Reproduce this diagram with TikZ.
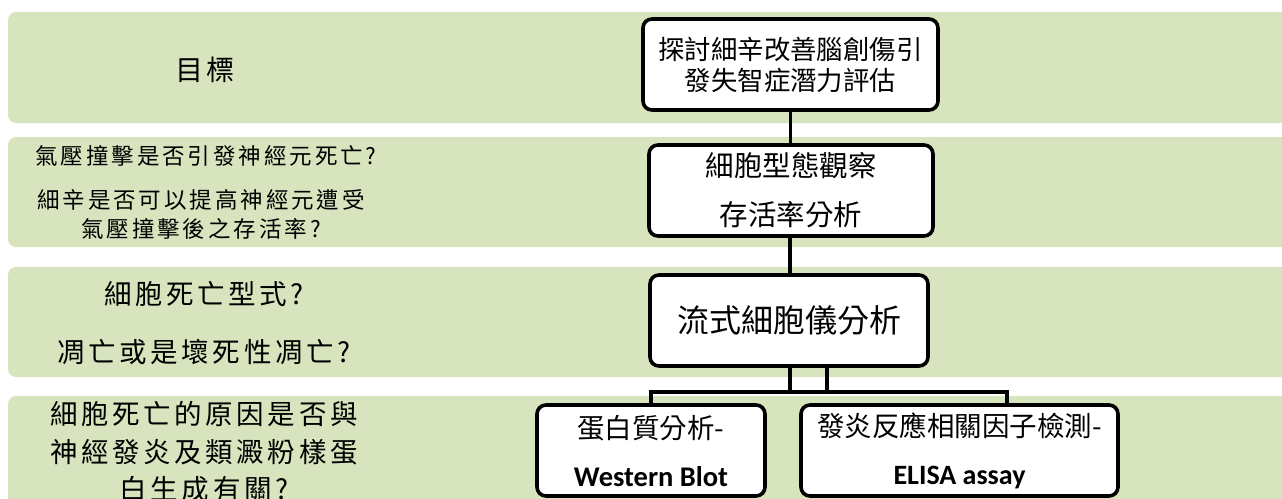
\documentclass[tikz,border=0pt]{standalone}
\usepackage{fontspec}
\setmainfont{Noto Sans CJK TC}
\newfontfamily\cjk{Noto Sans CJK TC}
\newfontfamily\cjkl{Noto Sans CJK TC}[LetterSpace=13]
\newfontfamily\latb{Carlito}
\definecolor{bandgreen}{HTML}{D7E4BD}
\begin{document}
\begin{tikzpicture}[x=1pt,y=-1pt,
  band/.style={fill=bandgreen, rounded corners=8pt},
  box/.style={draw=black, fill=white, line width=3.6pt, rounded corners=9pt, inner sep=0pt, align=center},
  conn/.style={draw=black, line width=3.6pt},
  lefttxt/.style={inner sep=0pt, align=center, text=black}]
\useasboundingbox (0,0) rectangle (1282,498);
\clip (0,0) rectangle (1282,498);
% bands
\fill[band] (1300,12) -- (8,12) -- (8,123) -- (1300,123) -- cycle;
\fill[band] (1300,137) -- (8,137) -- (8,247) -- (1300,247) -- cycle;
\fill[band] (1300,267) -- (8,267) -- (8,377) -- (1300,377) -- cycle;
\fill[band] (1300,396) -- (8,396) -- (8,520) -- (1300,520) -- cycle;
% left texts
\node[lefttxt, font=\cjkl\fontsize{28}{30}\selectfont] (t1) at (205,70) {目標};
\node[lefttxt, font=\cjkl\fontsize{22.5}{29}\selectfont] (t2a) at (206,156) {氣壓撞擊是否引發神經元死亡?};
\node[lefttxt, font=\cjkl\fontsize{22.5}{29}\selectfont] (t2b) at (201,214.5) {細辛是否可以提高神經元遭受\\氣壓撞擊後之存活率?};
\node[lefttxt, font=\cjkl\fontsize{27.5}{58}\selectfont] (t3) at (204,323) {細胞死亡型式?\\凋亡或是壞死性凋亡?};
\node[lefttxt, font=\cjkl\fontsize{27.5}{37.5}\selectfont] (t4) at (204,452) {細胞死亡的原因是否與\\神經發炎及類澱粉樣蛋\\白生成有關?};
% boxes
\node[box, minimum width=295pt, minimum height=91pt, font=\cjk\fontsize{26.4}{31}\selectfont] (b1) at (790.5,64.5) {探討細辛改善腦創傷引\\發失智症潛力評估};
\node[box, minimum width=284pt, minimum height=91pt, font=\cjk\fontsize{28.5}{49}\selectfont] (b2) at (791,190.5) {細胞型態觀察\\存活率分析};
\node[box, minimum width=278pt, minimum height=91pt, font=\cjk\fontsize{32}{38}\selectfont] (b3) at (789,320.5) {流式細胞儀分析};
\node[box, minimum width=228pt, minimum height=91pt, font=\cjk\fontsize{27.5}{48}\selectfont] (b4) at (651,450.5) {蛋白質分析-\\{\latb\bfseries\fontsize{28.5}{48}\selectfont Western Blot}};
\node[box, minimum width=317pt, minimum height=91pt, font=\cjk\fontsize{27.5}{48}\selectfont] (b5) at (959.5,450.5) {發炎反應相關因子檢測-\\{\latb\bfseries\fontsize{28}{48}\selectfont ELISA assay}};
% connectors
\coordinate (j1) at (790,392);
\coordinate (j2) at (827,392);
\coordinate (k5) at (1007,392);
\draw[conn] (b1.south) -- (b1.south |- b2.north);
\draw[conn] (b2.south -| j1) -- (j1 |- b3.north);
\draw[conn] (b3.south -| j1) -- (j1);
\draw[conn] (b3.south -| j2) -- (j2);
\draw[conn] (b4.north) |- (k5) -- (k5 |- b5.north);
\end{tikzpicture}
\end{document}
